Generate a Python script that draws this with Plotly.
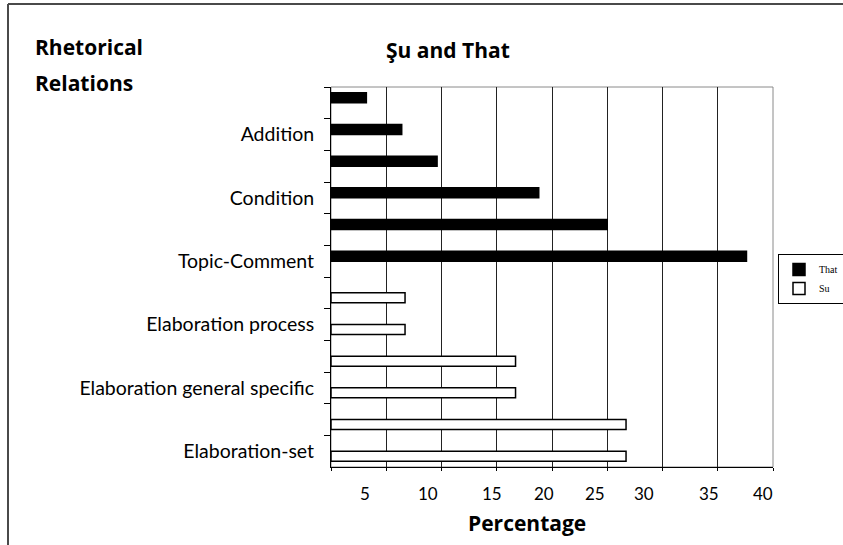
import plotly.graph_objects as go

# Rhetorical relation categories, top to bottom (only every other row carries a label)
categories = [
    " ", "Addition",
    "  ", "Condition",
    "   ", "Topic-Comment",
    "    ", "Elaboration process",
    "     ", "Elaboration general specific",
    "      ", "Elaboration-set",
]

# Percentages per series (None where the series has no bar)
that_values = [3.2, 6.4, 9.6, 18.8, 25.0, 37.6, None, None, None, None, None, None]
su_values = [None, None, None, None, None, None, 6.7, 6.7, 16.7, 16.7, 26.7, 26.7]

# Percentage labels along the bottom and where they sit on the value scale
x_tick_labels = ["5", "10", "15", "20", "25", "30", "35", "40"]
x_tick_label_pos = [3.1, 8.8, 14.6, 19.3, 23.9, 28.3, 34.2, 39.1]

W_FIG, H_FIG = 843, 545
M_L, M_R, M_T, M_B = 331, 70, 87, 78
PLOT_W = W_FIG - M_L - M_R
PLOT_H = H_FIG - M_T - M_B


def px_x(px):
    return (px - M_L) / PLOT_W


def px_y(py):
    return (H_FIG - M_B - py) / PLOT_H


FONT = "Lato"
TITLE_FONT = dict(size=21, family="Open Sans", color="black")

fig = go.Figure()
fig.add_trace(go.Bar(
    name="That", y=categories, x=that_values, orientation="h",
    marker=dict(color="black", line=dict(color="black", width=1.5)),
))
fig.add_trace(go.Bar(
    name="Su", y=categories, x=su_values, orientation="h",
    marker=dict(color="white", line=dict(color="black", width=1.5)),
))

annotations = [
    dict(text="<b>Rhetorical</b>", x=px_x(33), y=px_y(47), xanchor="left", yanchor="middle",
         font=TITLE_FONT),
    dict(text="<b>Relations</b>", x=px_x(33), y=px_y(83), xanchor="left", yanchor="middle",
         font=TITLE_FONT),
    dict(text="<b>Şu and That</b>", x=px_x(448), y=px_y(50), xanchor="center", yanchor="middle",
         font=TITLE_FONT),
    dict(text="<b>Percentage</b>", x=px_x(527), y=px_y(523), xanchor="center", yanchor="middle",
         font=TITLE_FONT),
]
for lab, pos in zip(x_tick_labels, x_tick_label_pos):
    annotations.append(dict(
        text=lab, x=pos, xref="x", y=0, yref="paper", xanchor="center", yanchor="middle",
        yshift=-26, showarrow=False, font=dict(size=17, family=FONT, color="black"),
    ))
for a in annotations:
    a.setdefault("xref", "paper")
    a.setdefault("yref", "paper")
    a.setdefault("showarrow", False)

shapes = [
    # plot-area border
    dict(type="rect", xref="paper", yref="paper", x0=0, y0=0, x1=1, y1=1,
         line=dict(color="#8a8a8a", width=1), layer="below"),
    # outer chart frame (top and left edges)
    dict(type="line", xref="paper", yref="paper", x0=px_x(8), y0=px_y(4), x1=px_x(850), y1=px_y(4),
         line=dict(color="#4a4a4a", width=2)),
    dict(type="line", xref="paper", yref="paper", x0=px_x(8), y0=px_y(4), x1=px_x(8), y1=px_y(560),
         line=dict(color="#4a4a4a", width=2)),
]

fig.update_layout(
    width=W_FIG, height=H_FIG,
    margin=dict(l=M_L, r=M_R, t=M_T, b=M_B, autoexpand=False),
    paper_bgcolor="white", plot_bgcolor="white",
    barmode="group", bargap=0.37, bargroupgap=0,
    showlegend=True,
    legend=dict(
        x=px_x(778), y=px_y(254), xanchor="left", yanchor="top",
        bordercolor="black", borderwidth=1, bgcolor="white",
        font=dict(family="Liberation Serif", size=10, color="black"),
        itemwidth=30, tracegroupgap=2,
    ),
    annotations=annotations,
    shapes=shapes,
)

fig.update_xaxes(
    range=[0, 40], dtick=5, tick0=0,
    showgrid=True, gridcolor="#222222", gridwidth=1,
    showline=True, linecolor="black", linewidth=1,
    ticks="outside", ticklen=3, tickcolor="black",
    showticklabels=False, zeroline=False, fixedrange=True,
)
fig.update_yaxes(
    type="category", categoryorder="array", categoryarray=categories,
    autorange="reversed",
    showgrid=False, showline=True, linecolor="black", linewidth=1,
    ticks="outside", tickson="boundaries", ticklen=6, tickcolor="black",
    ticklabelstandoff=12,
    tickfont=dict(size=19.5, family=FONT, color="black"),
    zeroline=False, fixedrange=True,
)

fig.write_html("out.html")
